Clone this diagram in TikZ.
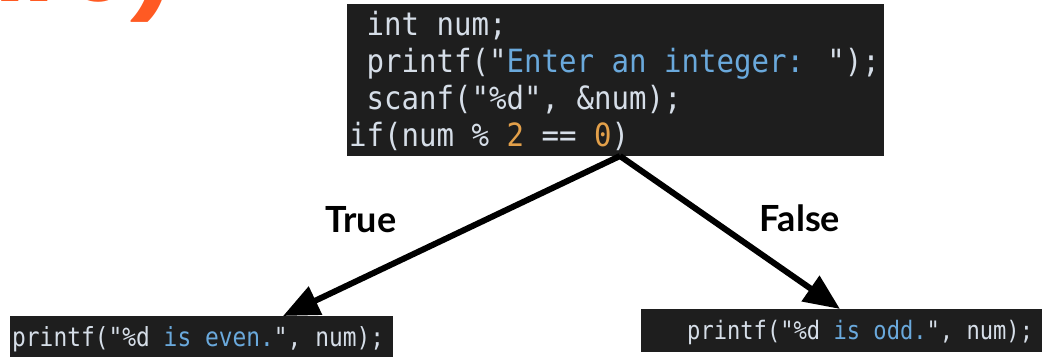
\documentclass[tikz,border=0pt]{standalone}
\usepackage{fontspec}
\usetikzlibrary{arrows.meta}
\newfontfamily\codefont[FakeStretch=0.908]{DejaVu Sans Mono}
\newfontfamily\codefontb[FakeStretch=0.87]{DejaVu Sans Mono}
\newfontfamily\labelfont{Lato}
\newfontfamily\titlefont{Poppins}
\definecolor{codebg}{HTML}{1E1E1E}
\definecolor{codefg}{HTML}{D6DEE8}
\definecolor{codestr}{HTML}{6AA9DC}
\definecolor{codenum}{HTML}{E3A04A}
\definecolor{titleor}{HTML}{FF5A23}
\begin{document}
\begin{tikzpicture}[x=1pt,y=1pt,
  codebox/.style={fill=codebg, draw=none, inner sep=0pt, outer sep=0pt, anchor=north west},
  codeline/.style={anchor=base west, inner sep=0pt, text=codefg, font=\codefont\fontsize{32}{32}\selectfont},
  smallcode/.style={anchor=base west, inner sep=0pt, text=codefg},
  lbl/.style={inner sep=0pt, font=\labelfont\bfseries\fontsize{36}{36}\selectfont},
  arrow/.style={line width=6pt, -{Triangle[length=36pt,width=30pt]}}
]
\useasboundingbox (0,0) rectangle (1042,-359);
\begin{scope}
  \clip (0,0) rectangle (1042,-359);
  \node[anchor=base east, inner sep=0pt, text=titleor, font=\titlefont\bfseries\fontsize{100}{100}\selectfont] (title) at (177,-1) {ure)};
\end{scope}

% top code box
\node[codebox, minimum width=537pt, minimum height=152pt] (cond) at (347,-4) {};
\node[codeline] (l1) at (366.5,-35) {int num;};
\node[codeline] (l2) at (366.5,-72) {printf("\textcolor{codestr}{Enter an integer: }");};
\node[codeline] (l3) at (366.5,-109) {scanf("\%d", \&num);};
\node[codeline] (l4) at (349,-146) {if(num \% \textcolor{codenum}{2} == \textcolor{codenum}{0})};

% bottom boxes
\node[codebox, minimum width=383pt, minimum height=41pt] (even) at (10,-316) {};
\node[smallcode, font=\codefontb\fontsize{26.3}{26.3}\selectfont] (eventext) at (12,-346) {printf("\%d \textcolor{codestr}{is even.}", num);};

\node[codebox, minimum width=401pt, minimum height=43pt] (odd) at (641,-309) {};
\node[smallcode, font=\codefontb\fontsize{25.4}{25.4}\selectfont] (oddtext) at (687,-339) {printf("\%d \textcolor{codestr}{is odd.}", num);};

% arrows
\draw[arrow] ([xshift=4.5pt]cond.south) -- ([xshift=81.5pt]even.north);
\draw[arrow] ([xshift=4.5pt]cond.south) -- ([xshift=-1.5pt]odd.north);

% labels
\node[lbl] (t) at (361,-220) {True};
\node[lbl] (f) at (800,-218) {False};
\end{tikzpicture}
\end{document}
